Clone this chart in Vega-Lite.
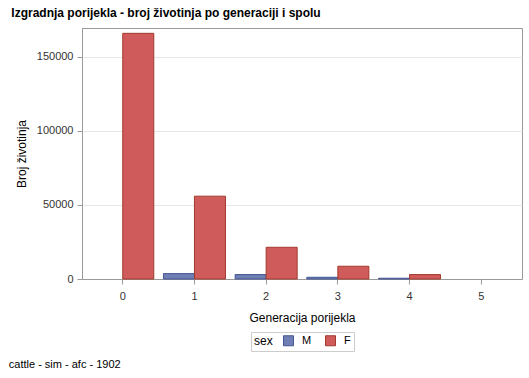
{
  "$schema": "https://vega.github.io/schema/vega-lite/v6.json",
  "padding": {"left": 8, "top": 6, "right": 5, "bottom": 5},
  "title": {"text": "cattle - sim - afc - 1902", "orient": "bottom", "anchor": "start", "fontSize": 11, "fontWeight": "normal", "font": "Liberation Sans", "color": "#000000", "offset": 7, "dx": -2},
  "vconcat": [
    {
      "title": {"text": "Izgradnja porijekla - broj životinja po generaciji i spolu", "anchor": "start", "fontSize": 12, "fontWeight": "bold", "font": "Liberation Sans", "color": "#000000", "offset": 8, "dx": -4},
      "width": 440,
      "height": 251,
      "data": {
        "values": [
          {"gen": 0, "sex": "F", "count": 165800},
          {"gen": 1, "sex": "M", "count": 3650},
          {"gen": 1, "sex": "F", "count": 55900},
          {"gen": 2, "sex": "M", "count": 3000},
          {"gen": 2, "sex": "F", "count": 21400},
          {"gen": 3, "sex": "M", "count": 1150},
          {"gen": 3, "sex": "F", "count": 8600},
          {"gen": 4, "sex": "M", "count": 500},
          {"gen": 4, "sex": "F", "count": 3000}
        ]
      },
      "mark": {"type": "bar", "strokeWidth": 1},
      "encoding": {
        "x": {
          "field": "gen", "type": "ordinal",
          "scale": {"domain": [0, 1, 2, 3, 4, 5], "paddingInner": 0.135, "paddingOuter": 0.136},
          "axis": {"title": "Generacija porijekla", "labelAngle": 0, "bandPosition": 0.5, "labelPadding": 6, "titlePadding": 11}
        },
        "xOffset": {"field": "sex", "type": "nominal", "scale": {"domain": ["M", "F"], "paddingInner": 0, "paddingOuter": 0}},
        "y": {
          "field": "count", "type": "quantitative",
          "scale": {"domain": [0, 169400], "nice": false},
          "axis": {"title": "Broj životinja", "values": [0, 50000, 100000, 150000], "format": "d", "grid": true, "titlePadding": 8}
        },
        "color": {
          "field": "sex", "type": "nominal",
          "scale": {"domain": ["M", "F"], "range": ["#6F7EB3", "#D05B5B"]},
          "legend": {"title": "sex", "orient": "none", "legendX": 169, "legendY": 304, "direction": "horizontal", "titleOrient": "left"}
        },
        "stroke": {
          "field": "sex", "type": "nominal",
          "scale": {"domain": ["M", "F"], "range": ["#445694", "#A23A2E"]},
          "legend": {"title": "sex", "orient": "none", "legendX": 169, "legendY": 304, "direction": "horizontal", "titleOrient": "left"}
        }
      }
    }
  ],
  "config": {
    "font": "Liberation Sans",
    "view": {"stroke": "#999999"},
    "axis": {
      "labelFont": "Liberation Sans", "labelFontSize": 11, "labelColor": "#333333",
      "titleFont": "Liberation Sans", "titleFontSize": 12, "titleFontWeight": "normal", "titleColor": "#000000",
      "domainColor": "#999999", "tickColor": "#999999", "tickSize": 5,
      "gridColor": "#e6e6e6"
    },
    "axisX": {"grid": false},
    "axisY": {"labelPadding": 4},
    "legend": {
      "strokeColor": "#cccccc", "padding": 3, "symbolType": "square", "symbolSize": 100, "symbolStrokeWidth": 1,
      "labelFont": "Liberation Sans", "labelFontSize": 11, "labelColor": "#000000",
      "titleFont": "Liberation Sans", "titleFontSize": 12, "titleFontWeight": "normal", "titleColor": "#000000",
      "columnPadding": 11, "labelOffset": 8, "titlePadding": 10
    }
  }
}
